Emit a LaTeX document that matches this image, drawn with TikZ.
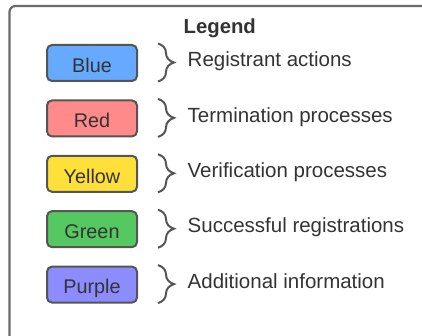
\documentclass[tikz,border=0pt]{standalone}
\usepackage{fontspec}
\setmainfont{Liberation Sans}
\usetikzlibrary{positioning,decorations.pathreplacing}

\definecolor{legblue}{HTML}{66AAFF}
\definecolor{legred}{HTML}{FF8A8A}
\definecolor{legyellow}{HTML}{FFE03A}
\definecolor{leggreen}{HTML}{55C862}
\definecolor{legpurple}{HTML}{8C8CFF}
\definecolor{boxline}{HTML}{555555}
\definecolor{frameline}{HTML}{6A6A6A}
\definecolor{txt}{HTML}{333333}

\begin{document}
\begin{tikzpicture}[
    x=1pt, y=1pt,
    node distance=17.4pt,
    box/.style={rectangle, rounded corners=5pt, draw=boxline, line width=2pt, minimum width=90pt, minimum height=36pt, text height=20pt, text depth=1.4pt, text=txt, font=\fontsize{19.8}{22}\selectfont},
    brc/.style={decorate, decoration={brace, amplitude=16pt}, draw=boxline, line width=2pt},
    desc/.style={anchor=base west, inner sep=0pt, text=txt, font=\fontsize{20.5}{24}\selectfont}
]
    \useasboundingbox (0,0) rectangle (422,335);
    % outer frame, cut off at the right and bottom
    \begin{scope}
        \clip (0,0) rectangle (422,335);
        \draw[frameline, line width=2.2pt, rounded corners=6pt] (9.5,-30) rectangle (460,329);
    \end{scope}

    \node[anchor=base west, inner sep=0pt, text=txt, font=\fontsize{20.3}{24}\selectfont\bfseries] (legend) at (183.5,301) {Legend};

    \node[box, fill=legblue] (blue) at (92,272) {Blue};
    \node[box, fill=legred, below=of blue] (red) {Red};
    \node[box, fill=legyellow, below=of red] (yellow) {Yellow};
    \node[box, fill=leggreen, below=of yellow] (green) {Green};
    \node[box, fill=legpurple, below=of green] (purple) {Purple};

    \foreach \b/\t in {blue/Registrant actions, red/Termination processes, yellow/Verification processes, green/Successful registrations, purple/Additional information} {
        \draw[brc] ([xshift=20pt,yshift=0.5pt]\b.north east) -- ([xshift=20pt,yshift=0.5pt]\b.south east);
        \node[desc] (\b-text) at ([xshift=49.5pt,yshift=-3.7pt]\b.east) {\t};
    }
\end{tikzpicture}
\end{document}
